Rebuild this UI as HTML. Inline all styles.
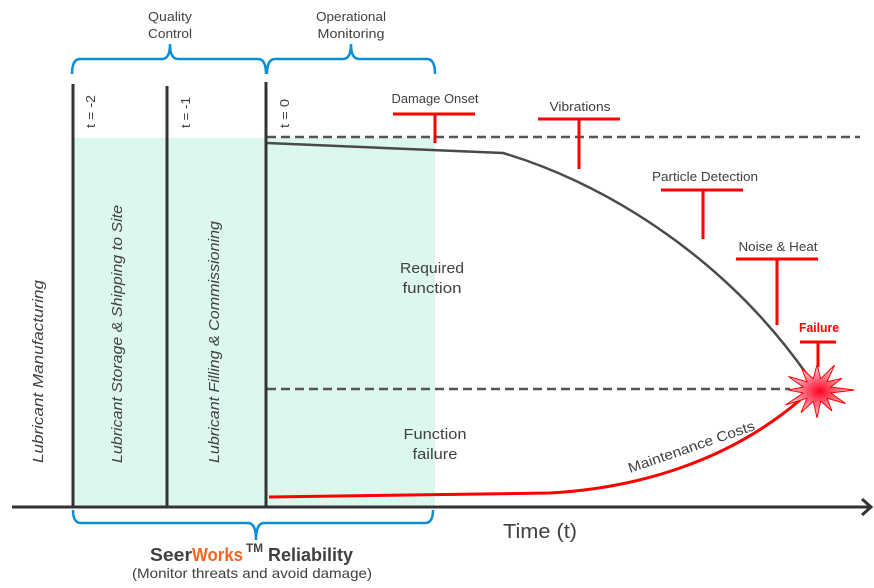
<!DOCTYPE html>
<html><head><meta charset="utf-8"><style>
html,body{margin:0;padding:0;background:#fff;}
svg{display:block;}
text{font-family:"Liberation Sans",sans-serif;fill:#404040;}
</style></head><body>
<svg width="874" height="588" viewBox="0 0 874 588" xmlns="http://www.w3.org/2000/svg">
<defs>
<radialGradient id="sg" cx="0.5" cy="0.5" r="0.5">
<stop offset="0" stop-color="#ff0020"/>
<stop offset="0.5" stop-color="#ff6f85"/>
<stop offset="1" stop-color="#ffd6dc"/>
</radialGradient>
</defs>
<!-- green zone -->
<rect x="73" y="138" width="362" height="369" fill="#dcf7ec"/>

<!-- top brackets -->
<path d="M72,74 Q72,59 80,59 L162,59 Q170,59 170,44 Q170,59 178,59 L258,59 Q266,59 266,74" fill="none" stroke="#0a8fd6" stroke-width="2.5"/>
<path d="M267,74 Q267,59 275,59 L343,59 Q351,59 351,44 Q351,59 359,59 L427,59 Q435,59 435,74" fill="none" stroke="#0a8fd6" stroke-width="2.5"/>
<!-- bottom bracket -->
<path d="M73,510 Q73,523 81,523 L248,523 Q256,523 256,540 Q256,523 264,523 L425,523 Q433,523 433,510" fill="none" stroke="#0a8fd6" stroke-width="2.5"/>

<!-- top labels -->
<text x="170" y="21" font-size="13" text-anchor="middle" textLength="44" lengthAdjust="spacingAndGlyphs">Quality</text>
<text x="170" y="38" font-size="13" text-anchor="middle" textLength="44" lengthAdjust="spacingAndGlyphs">Control</text>
<text x="351" y="21" font-size="13" text-anchor="middle" textLength="70" lengthAdjust="spacingAndGlyphs">Operational</text>
<text x="351" y="38" font-size="13" text-anchor="middle" textLength="67" lengthAdjust="spacingAndGlyphs">Monitoring</text>

<!-- dashed lines -->
<line x1="267" y1="137" x2="860" y2="137" stroke="#555" stroke-width="2.5" stroke-dasharray="9,5"/>
<line x1="267" y1="389" x2="790" y2="389" stroke="#555" stroke-width="2.5" stroke-dasharray="9,5"/>

<!-- vertical lines -->
<line x1="73" y1="84" x2="73" y2="508" stroke="#333" stroke-width="3"/>
<line x1="167" y1="86" x2="167" y2="508" stroke="#333" stroke-width="3"/>
<line x1="266" y1="82" x2="266" y2="508" stroke="#333" stroke-width="3"/>

<!-- t labels -->
<text transform="translate(95,128) rotate(-90)" font-size="13" textLength="33" lengthAdjust="spacingAndGlyphs">t = -2</text>
<text transform="translate(190,128) rotate(-90)" font-size="13" textLength="31" lengthAdjust="spacingAndGlyphs">t = -1</text>
<text transform="translate(289,128) rotate(-90)" font-size="13" textLength="29" lengthAdjust="spacingAndGlyphs">t = 0</text>

<!-- rotated phase labels -->
<text transform="translate(43,463) rotate(-90)" font-size="15" font-style="italic" textLength="183" lengthAdjust="spacingAndGlyphs">Lubricant  Manufacturing</text>
<text transform="translate(122,463) rotate(-90)" font-size="15" font-style="italic" textLength="258" lengthAdjust="spacingAndGlyphs">Lubricant Storage &amp; Shipping to Site</text>
<text transform="translate(219,463) rotate(-90)" font-size="15" font-style="italic" textLength="242" lengthAdjust="spacingAndGlyphs">Lubricant Filling &amp; Commissioning</text>

<!-- region labels -->
<text x="432" y="273" font-size="15" text-anchor="middle" textLength="64" lengthAdjust="spacingAndGlyphs">Required</text>
<text x="432" y="293" font-size="15" text-anchor="middle" textLength="59" lengthAdjust="spacingAndGlyphs">function</text>
<text x="435" y="439" font-size="15" text-anchor="middle" textLength="63" lengthAdjust="spacingAndGlyphs">Function</text>
<text x="435" y="459" font-size="15" text-anchor="middle" textLength="45" lengthAdjust="spacingAndGlyphs">failure</text>

<!-- gray degradation curve -->
<path d="M267,143 L503,153 C595,180 720,250 808,376" fill="none" stroke="#4a4a4a" stroke-width="2.5"/>

<!-- red markers -->
<g stroke="#ff0000" stroke-width="3" fill="none">
<line x1="393" y1="114" x2="475" y2="114"/><line x1="435" y1="114" x2="435" y2="143"/>
<line x1="538" y1="119" x2="620" y2="119"/><line x1="579" y1="119" x2="579" y2="169"/>
<line x1="661" y1="190" x2="743" y2="190"/><line x1="703" y1="190" x2="703" y2="239"/>
<line x1="736" y1="259" x2="818" y2="259"/><line x1="777" y1="259" x2="777" y2="325"/>
<line x1="800" y1="342" x2="836" y2="342"/><line x1="818" y1="342" x2="818" y2="367"/>
</g>
<text x="435" y="103" font-size="13" text-anchor="middle" textLength="87" lengthAdjust="spacingAndGlyphs">Damage Onset</text>
<text x="580" y="111" font-size="13" text-anchor="middle" textLength="61" lengthAdjust="spacingAndGlyphs">Vibrations</text>
<text x="705" y="181" font-size="13" text-anchor="middle" textLength="106" lengthAdjust="spacingAndGlyphs">Particle Detection</text>
<text x="778" y="251" font-size="13" text-anchor="middle" textLength="79" lengthAdjust="spacingAndGlyphs">Noise &amp; Heat</text>
<text x="819" y="332" font-size="13" font-weight="bold" text-anchor="middle" style="fill:#ff0000" textLength="40" lengthAdjust="spacingAndGlyphs">Failure</text>

<!-- maintenance cost curve -->
<path d="M269,497 L550,493 C640,488 730,460 800,400" fill="none" stroke="#ff0000" stroke-width="3"/>
<text transform="translate(630,473) rotate(-19)" font-size="14" textLength="133" lengthAdjust="spacingAndGlyphs">Maintenance Costs</text>

<!-- star -->
<polygon points="817,364.8 820.7,378.7 834.6,365.1 827.1,381.7 841.8,378.3 830.8,387 854.4,390 830.8,393 845.6,403.5 827.1,398.3 831.9,411 820.7,401.3 817,417.9 813.3,401.3 801,412.6 806.9,398.3 785.6,404.9 803.2,393 788.4,390 803.2,387 788.4,376.5 806.9,381.7 801.6,368.2 813.3,378.7" fill="url(#sg)" stroke="#ff0000" stroke-width="1"/>

<!-- time axis -->
<line x1="12" y1="507" x2="871" y2="507" stroke="#333" stroke-width="3"/>
<polyline points="862,499 871,507 862,515" fill="none" stroke="#333" stroke-width="3"/>
<text x="503" y="538" font-size="20" textLength="74" lengthAdjust="spacingAndGlyphs">Time (t)</text>

<!-- bottom label -->
<text x="150" y="561" font-size="18" font-weight="bold" textLength="42" lengthAdjust="spacingAndGlyphs">Seer</text>
<text x="192" y="561" font-size="18" font-weight="bold" style="fill:#f26522" textLength="51" lengthAdjust="spacingAndGlyphs">Works</text>
<text x="246" y="552" font-size="12" font-weight="bold" textLength="17" lengthAdjust="spacingAndGlyphs">TM</text>
<text x="268" y="561" font-size="18" font-weight="bold" textLength="85" lengthAdjust="spacingAndGlyphs">Reliability</text>
<text x="252" y="578" font-size="14" text-anchor="middle" textLength="240" lengthAdjust="spacingAndGlyphs">(Monitor threats and avoid damage)</text>
</svg>
</body></html>
